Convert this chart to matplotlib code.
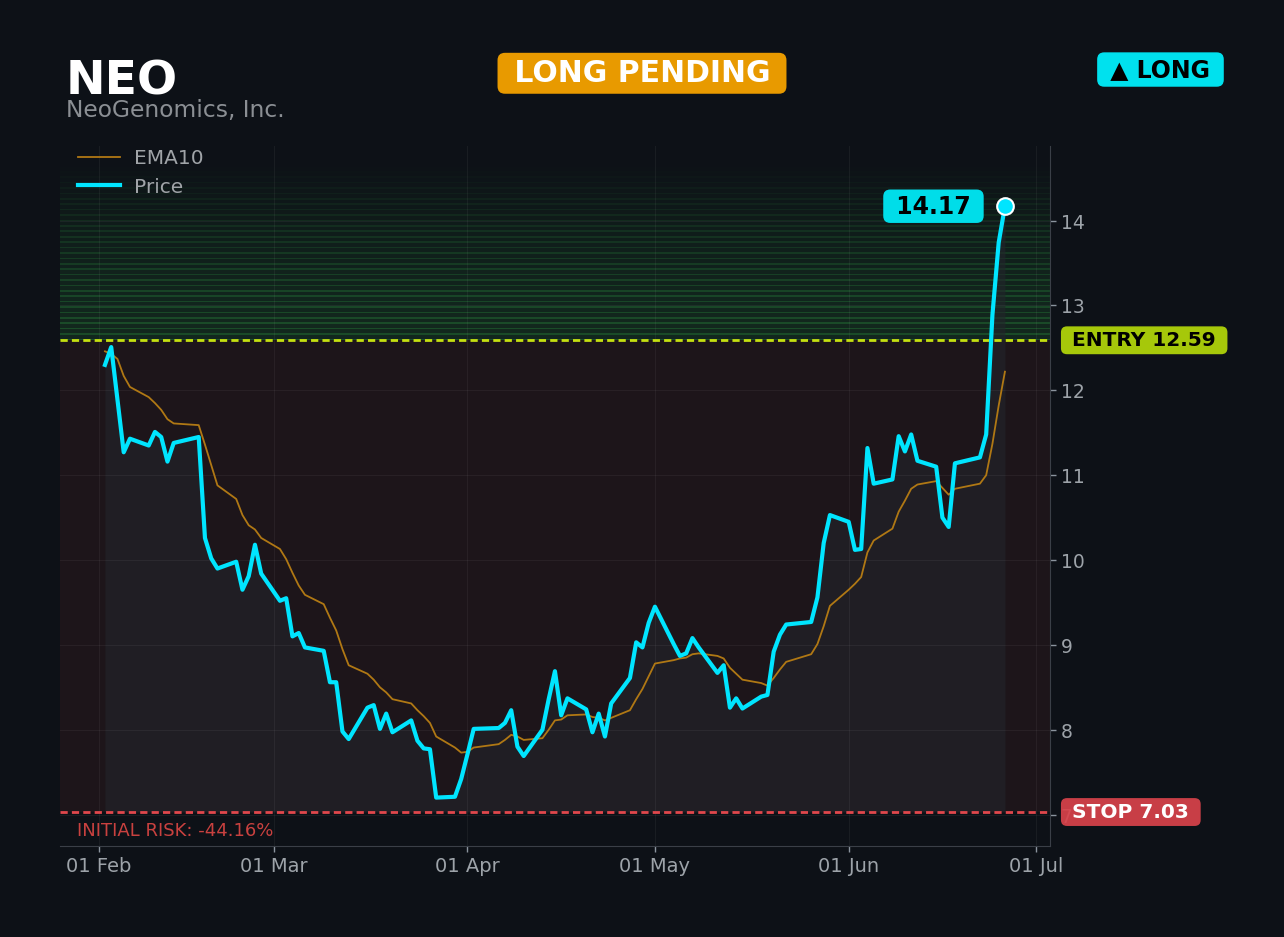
import matplotlib
matplotlib.use("Agg")
import matplotlib.pyplot as plt
import matplotlib.dates as mdates
import matplotlib.transforms as mtransforms
import numpy as np
import pandas as pd

ticker = "NEO"
company = "NeoGenomics, Inc."
status = "LONG PENDING"
side = "LONG"
entry = 12.59
stop = 7.03
risk_pct = -44.16

# trading days, Feb 2 - Jun 26
holidays = ["2026-02-16", "2026-04-03", "2026-05-25", "2026-06-19"]
dates = pd.bdate_range("2026-02-02", "2026-06-26", freq="C", holidays=holidays)

price_feb = [12.30, 12.51, 11.89, 11.27, 11.43, 11.35, 11.51, 11.45, 11.16, 11.38,
             11.45, 10.26, 10.02, 9.90, 9.98, 9.65, 9.81, 10.18, 9.84]
price_mar = [9.52, 9.55, 9.10, 9.14, 8.97, 8.93, 8.56, 8.56, 7.98, 7.89, 8.26,
             8.29, 8.01, 8.19, 7.97, 8.11, 7.87, 7.78, 7.77, 7.20, 7.21, 7.42]
price_apr = [7.71, 8.01, 8.02, 8.08, 8.23, 7.80, 7.69, 8.00, 8.36, 8.69, 8.17,
             8.37, 8.24, 7.97, 8.19, 7.92, 8.31, 8.61, 9.03, 8.97, 9.26]
price_may = [9.45, 9.01, 8.87, 8.90, 9.08, 8.97, 8.67, 8.76, 8.26, 8.37, 8.25,
             8.39, 8.41, 8.92, 9.12, 9.24, 9.27, 9.56, 10.20, 10.53]
price_jun = [10.45, 10.12, 10.13, 11.32, 10.90, 10.95, 11.46, 11.28, 11.48, 11.17,
             11.10, 10.50, 10.39, 11.14, 11.21, 11.48, 12.89, 13.74, 14.17]

ema_feb = [12.46, 12.43, 12.37, 12.17, 12.04, 11.92, 11.85, 11.77, 11.66, 11.61,
           11.59, 11.36, 11.12, 10.88, 10.72, 10.53, 10.41, 10.36, 10.26]
ema_mar = [10.13, 10.01, 9.85, 9.70, 9.59, 9.48, 9.32, 9.17, 8.95, 8.76, 8.66,
           8.59, 8.50, 8.44, 8.36, 8.31, 8.23, 8.16, 8.08, 7.92, 7.79, 7.73]
ema_apr = [7.74, 7.79, 7.83, 7.88, 7.94, 7.92, 7.88, 7.90, 8.00, 8.11, 8.12,
           8.17, 8.18, 8.15, 8.14, 8.11, 8.14, 8.23, 8.36, 8.48, 8.63]
ema_may = [8.78, 8.82, 8.84, 8.85, 8.89, 8.90, 8.87, 8.84, 8.73, 8.66, 8.59,
           8.55, 8.52, 8.61, 8.71, 8.80, 8.89, 9.01, 9.22, 9.46]
ema_jun = [9.65, 9.72, 9.80, 10.09, 10.23, 10.37, 10.57, 10.70, 10.84, 10.89,
           10.93, 10.85, 10.77, 10.84, 10.90, 11.00, 11.37, 11.82, 12.22]

price = price_feb + price_mar + price_apr + price_may + price_jun
ema10 = ema_feb + ema_mar + ema_apr + ema_may + ema_jun

BG = "#0d1117"
CYAN = "#00e5ff"
GRAY = "#9da3a9"
GREEN = "#2ea043"

plt.rcParams["font.family"] = ["DejaVu Sans"]

fig = plt.figure(figsize=(12.84, 9.375), dpi=100, facecolor=BG)
ax = fig.add_axes([0.0467, 0.0971, 0.7710, 0.7471])
ax.set_facecolor(BG)

ymin, ymax = 6.63, 14.885

# green zone above entry: tinted, striped, fading upward
n = 36
edges = np.linspace(entry, ymax, n + 1)
for i in range(n):
    t = i / n
    f = max(0.0, 1 - (t / 0.9) ** 1.4)
    h = edges[i + 1] - edges[i]
    ax.axhspan(edges[i], edges[i + 1], color=GREEN, alpha=0.16 * f, lw=0, zorder=0.6)
    ax.axhspan(edges[i], edges[i] + h * 0.3, color=GREEN, alpha=0.31 * f, lw=0, zorder=0.6)

# risk zone between stop and entry
ax.axhspan(stop, entry, color="#f85149", alpha=0.07, lw=0, zorder=0.5)

ax.fill_between(dates, price, stop, color="#23252c", alpha=0.6, lw=0, zorder=1)

ax.plot(dates, ema10, color="#b07814", lw=1.3, zorder=3, label="EMA10")
ax.plot(dates, price, color=CYAN, lw=3, zorder=4, label="Price")

ax.axhline(entry, color="#c5e010", lw=2, ls=(0, (2.6, 1.5)), zorder=3)
ax.axhline(stop, color="#e0474c", lw=2, ls=(0, (2.6, 1.5)), zorder=3)

ax.plot(dates[-1], price[-1], "o", ms=12, mfc=CYAN, mec="white", mew=1.5, zorder=6)
ax.annotate(f" {price[-1]:.2f} ", xy=(dates[-1], price[-1]), xytext=(-18.7, 0),
            textcoords="offset points", ha="right", va="center", fontsize=17,
            fontweight="bold", color="black", zorder=7,
            bbox=dict(boxstyle="round,pad=0.2,rounding_size=0.3", fc="#00dde9", ec="none"))

trans = mtransforms.blended_transform_factory(ax.transAxes, ax.transData)
ax.text(1.0156, entry, f" ENTRY {entry:.2f} ", transform=trans, ha="left", va="center",
        fontsize=14.5, fontweight="bold", color="black", clip_on=False, zorder=8,
        bbox=dict(boxstyle="round,pad=0.22,rounding_size=0.3", fc="#a6c80a", ec="none"))
ax.text(1.0156, stop, f" STOP {stop:.2f} ", transform=trans, ha="left", va="center",
        fontsize=14.5, fontweight="bold", color="white", clip_on=False, zorder=8,
        bbox=dict(boxstyle="round,pad=0.22,rounding_size=0.3", fc="#d9434b", ec="none", alpha=0.92))
ax.annotate(f"INITIAL RISK: {risk_pct:.2f}%", xy=(0.017, stop), xycoords=trans,
            xytext=(0, -6.5), textcoords="offset points", ha="left", va="top",
            fontsize=13, color="#c9413f")

ax.set_ylim(ymin, ymax)
ax.yaxis.tick_right()
ax.xaxis.set_major_locator(mdates.MonthLocator())
ax.xaxis.set_major_formatter(mdates.DateFormatter("%d %b"))
ax.tick_params(axis="both", colors="#8b949e", labelcolor=GRAY, length=4.3, width=1)
ax.tick_params(axis="y", labelsize=13.5)
ax.tick_params(axis="x", labelsize=14)
ax.grid(True, color="white", alpha=0.05, lw=0.8)

for s in ["top", "left"]:
    ax.spines[s].set_visible(False)
for s in ["bottom", "right"]:
    ax.spines[s].set_color("#3a3f47")

ax.legend(loc="upper left", bbox_to_anchor=(0.0, 1.021), frameon=False, fontsize=14.5,
          labelcolor="#a0a4a8", handlelength=2.09, handletextpad=0.7, labelspacing=0.45)

# header
fig.text(0.0514, 0.8997, ticker, fontsize=34, fontweight="bold", color="white", va="baseline")
fig.text(0.0514, 0.8755, company, fontsize=16.8, color="#8b8f94", va="baseline")
fig.text(0.5, 0.9213, f" {status} ", fontsize=21.5, fontweight="bold", color="white",
         ha="center", va="center",
         bbox=dict(boxstyle="round,pad=0.2,rounding_size=0.25", fc="#e89a00", ec="none"))
fig.text(0.9038, 0.9253, f" \u25b2 {side} ", fontsize=17, fontweight="bold", color="black",
         ha="center", va="center",
         bbox=dict(boxstyle="round,pad=0.22,rounding_size=0.3", fc="#00e1ee", ec="none"))

fig.savefig("out.png", dpi=100, facecolor=BG)
